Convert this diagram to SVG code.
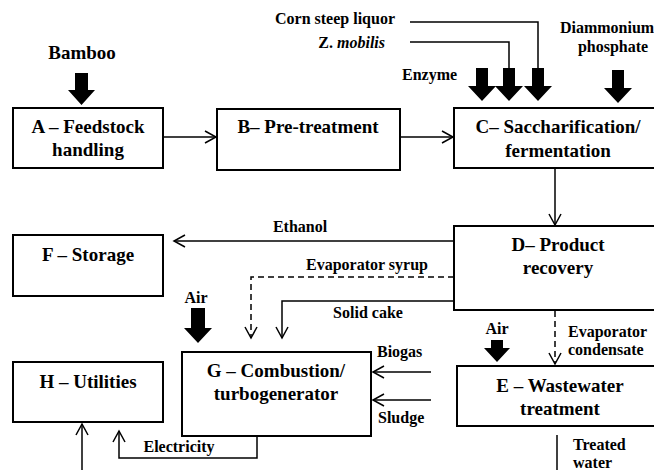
<svg xmlns="http://www.w3.org/2000/svg" width="654" height="470" viewBox="0 0 654 470">
<defs>
<style>
.box{fill:#fff;stroke:#000;stroke-width:2}
.t{font-family:'Liberation Serif','DejaVu Serif',serif;font-weight:bold;font-size:19px;fill:#000;text-anchor:middle}
.l{font-family:'Liberation Serif','DejaVu Serif',serif;font-weight:bold;font-size:16px;fill:#000}
.c{fill:none;stroke:#000;stroke-width:1.5}
.d{fill:none;stroke:#000;stroke-width:1.5;stroke-dasharray:6 4}
.thick{fill:#000;stroke:none}
</style>
<marker id="ah" markerUnits="userSpaceOnUse" markerWidth="14" markerHeight="14" refX="11" refY="6" orient="auto" overflow="visible">
<path d="M0,0 L11,6 L0,12" fill="none" stroke="#000" stroke-width="1.5"/>
</marker>
</defs>
<rect width="654" height="470" fill="#fff"/>

<g id="connectors">
<line class="c" x1="163" y1="137" x2="216" y2="137" marker-end="url(#ah)"/>
<line class="c" x1="400" y1="137" x2="453" y2="137" marker-end="url(#ah)"/>
<line class="c" x1="555" y1="168" x2="555" y2="225" marker-end="url(#ah)"/>
<line class="c" x1="454" y1="241" x2="174" y2="241" marker-end="url(#ah)"/>
<polyline class="d" points="454,277 251,277 251,338" marker-end="url(#ah)"/>
<polyline class="c" points="454,301 282,301 282,338" marker-end="url(#ah)"/>
<line class="c" x1="431" y1="372" x2="373" y2="372" marker-end="url(#ah)"/>
<line class="c" x1="431" y1="400" x2="373" y2="400" marker-end="url(#ah)"/>
<line class="d" x1="555" y1="311" x2="555" y2="364" marker-end="url(#ah)"/>
<line class="c" x1="557" y1="435" x2="557" y2="470"/>
<polyline class="c" points="257,436 257,458 119,458 119,431" marker-end="url(#ah)"/>
<line class="c" x1="82" y1="470" x2="82" y2="424" marker-end="url(#ah)"/>
<polyline class="c" points="410,22 538,22 538,70"/>
<polyline class="c" points="410,42 509,42 509,70"/>
<path class="thick" d="M75,73 H88 V90 H95 L81.5,105 L68,90 H75 Z"/>
<path class="thick" d="M476,68 H488 V86 H496 L482,101 L468,86 H476 Z"/>
<path class="thick" d="M503,68 H515 V86 H523 L509,101 L495,86 H503 Z"/>
<path class="thick" d="M532,68 H544 V86 H552 L538,101 L524,86 H532 Z"/>
<path class="thick" d="M612,70 H624 V88 H632 L618,103 L604,88 H612 Z"/>
<path class="thick" d="M191,308 H205 V328 H212 L198,343 L184,328 H191 Z"/>
<path class="thick" d="M491,340 H503 V348 H510 L497,362 L484,348 H491 Z"/>
</g>

<g id="labels">
<text class="l" x="82" y="59" text-anchor="middle" style="font-size:19px">Bamboo</text>
<text class="l" x="395" y="24" text-anchor="end">Corn steep liquor</text>
<text class="l" x="385" y="48" text-anchor="end">Z. <tspan font-style="italic">mobilis</tspan></text>
<text class="l" x="402" y="80">Enzyme</text>
<text class="l" x="607" y="33" text-anchor="middle">Diammonium</text>
<text class="l" x="613" y="52" text-anchor="middle">phosphate</text>
<text class="l" x="300" y="232" text-anchor="middle">Ethanol</text>
<text class="l" x="367" y="270" text-anchor="middle">Evaporator syrup</text>
<text class="l" x="368" y="318" text-anchor="middle">Solid cake</text>
<text class="l" x="196" y="303" text-anchor="middle">Air</text>
<text class="l" x="497" y="334" text-anchor="middle">Air</text>
<text class="l" x="568" y="337">Evaporator</text>
<text class="l" x="568" y="355">condensate</text>
<text class="l" x="377" y="357">Biogas</text>
<text class="l" x="378" y="423">Sludge</text>
<text class="l" x="179" y="452" text-anchor="middle">Electricity</text>
<text class="l" x="573" y="450">Treated</text>
<text class="l" x="573" y="468">water</text>
</g>

<g id="A"><rect class="box" x="13" y="108" width="150" height="60"/><text class="t" x="88" y="133">A – Feedstock</text><text class="t" x="88" y="156">handling</text></g>
<g id="B"><rect class="box" x="217" y="109" width="183" height="61"/><text class="t" x="308" y="133">B– Pre-treatment</text></g>
<g id="C"><rect class="box" x="454" y="108" width="210" height="60"/><text class="t" x="558" y="133">C– Saccharification/</text><text class="t" x="558" y="157">fermentation</text></g>
<g id="D"><rect class="box" x="454" y="226" width="210" height="84"/><text class="t" x="558" y="251">D– Product</text><text class="t" x="558" y="274">recovery</text></g>
<g id="F"><rect class="box" x="13" y="235" width="150" height="61"/><text class="t" x="88" y="261">F – Storage</text></g>
<g id="G"><rect class="box" x="182" y="352" width="189" height="84"/><text class="t" x="276" y="377">G – Combustion/</text><text class="t" x="276" y="400">turbogenerator</text></g>
<g id="H"><rect class="box" x="13" y="362" width="150" height="60"/><text class="t" x="88" y="388">H – Utilities</text></g>
<g id="E"><rect class="box" x="457" y="366" width="210" height="60"/><text class="t" x="560" y="392">E – Wastewater</text><text class="t" x="560" y="415">treatment</text></g>
</svg>
